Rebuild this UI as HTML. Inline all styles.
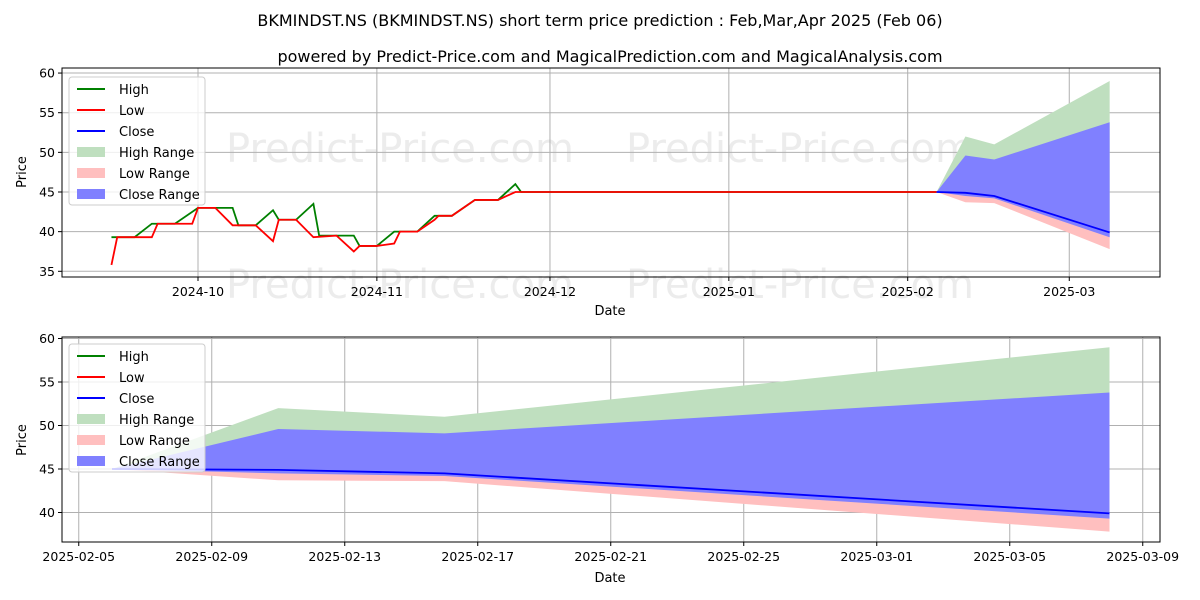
<!DOCTYPE html>
<html><head><meta charset="utf-8"><style>
body{margin:0;background:#fff;}
svg{display:block;font-family:"DejaVu Sans","Liberation Sans",sans-serif;}
</style></head><body>
<svg id="c" width="1200" height="600" xmlns="http://www.w3.org/2000/svg">
<text x="600" y="26" text-anchor="middle" font-size="16">BKMINDST.NS (BKMINDST.NS) short term price prediction : Feb,Mar,Apr 2025 (Feb 06)</text>
<text x="610" y="62" text-anchor="middle" font-size="16">powered by Predict-Price.com and MagicalPrediction.com and MagicalAnalysis.com</text>
</svg>
<script>
// ---- data ----
// historical (day offsets from 2024-10-01)
const highDays = [-15,-11,-8,-4,0,6,7,10,13,14,17,20,21,24,27,28,31,34,38,41,44,48,52,55,56,128];
const highVals = [39.3,39.3,41,41,43,43,40.8,40.8,42.7,41.5,41.5,43.5,39.5,39.5,39.5,38.2,38.2,40,40,42,42,44,44,46,45,45];
const lowDays = [-15,-14,-8,-7,-1,0,3,6,10,13,14,17,20,24,27,28,31,34,35,38,41,41.7,44,48,52,55,128];
const lowVals = [35.8,39.3,39.3,41,41,43,43,40.8,40.8,38.8,41.5,41.5,39.3,39.5,37.5,38.2,38.2,38.5,40,40,41.5,42,42,44,44,45,45];
// forecast (day offsets from 2025-02-06)
const fcDays = [0,5,10,30];
const fcHigh = [45,52,51,59];
const fcCloseUp = [45,49.6,49.1,53.8];
const fcClose = [45,44.9,44.5,39.9];
const fcCloseLo = [45,44.5,44.2,39.3];
const fcLowLo = [45,43.7,43.6,37.8];
const topXTicks = ["2024-10","2024-11","2024-12","2025-01","2025-02","2025-03"];
const topXTickDays = [0,31,61,92,123,151];
const botXTicks = ["2025-02-05","2025-02-09","2025-02-13","2025-02-17","2025-02-21","2025-02-25","2025-03-01","2025-03-05","2025-03-09"];
const botXTickDays = [-1,3,7,11,15,19,23,27,31];
const topYTicks = [35,40,45,50,55,60];
const botYTicks = [40,45,50,55,60];

const NS="http://www.w3.org/2000/svg";
const svg=document.getElementById('c');
function el(tag,attrs,parent){const e=document.createElementNS(NS,tag);for(const k in attrs)e.setAttribute(k,attrs[k]);(parent||svg).appendChild(e);return e;}

// watermarks (behind everything)
const wmg=el('g',{});


[[400,162],[800,162],[400,298],[800,298],[400,462],[800,462]].forEach(w=>{
  const t=el('text',{x:w[0],y:w[1],'text-anchor':'middle','font-size':40,fill:'#ececec'},wmg);t.textContent='Predict-Price.com';
  
  
});

function panel(cfg){
  const {L,R,T,B,xs,ys,pfx}=cfg;
  const g=el('g',{});
  
  
  cfg.xt.forEach((d,i)=>{const x=xs(d);el('line',{x1:x,x2:x,y1:T,y2:B,stroke:'#b0b0b0','stroke-width':1},g);
    el('line',{x1:x,x2:x,y1:B,y2:B+4,stroke:'#000'},g);
    const t=el('text',{x:x,y:B+19,'text-anchor':'middle','font-size':12.5},g);t.textContent=cfg.xl[i];
    
    });
  cfg.yt.forEach(v=>{const y=ys(v);el('line',{x1:L,x2:R,y1:y,y2:y,stroke:'#b0b0b0','stroke-width':1},g);
    el('line',{x1:L-4,x2:L,y1:y,y2:y,stroke:'#000'},g);
    const t=el('text',{x:L-7,y:y+4.5,'text-anchor':'end','font-size':12.5},g);t.textContent=v;
    
    });
  return g;
}
function poly(g,xs,ys,days,top,bot,fill,name){
  let pts=days.map((d,i)=>xs(d)+','+ys(top[i]));
  for(let i=days.length-1;i>=0;i--)pts.push(xs(days[i])+','+ys(bot[i]));
  const p=el('polygon',{points:pts.join(' '),fill:fill},g);
  
  
}
function line(g,xs,ys,days,vals,col,name){
  const p=el('polyline',{points:days.map((d,i)=>xs(d)+','+ys(vals[i])).join(' '),fill:'none',stroke:col,'stroke-width':1.8},g);
  
  
}
function frame(g,L,R,T,B){el('rect',{x:L,y:T,width:R-L,height:B-T,fill:'none',stroke:'#000','stroke-width':1},g);}
function legend(g,x,y,name){
  const lg=el('g',{},g);
  
  
  el('rect',{x:x,y:y,width:136,height:128,rx:3,fill:'#fff','fill-opacity':0.8,stroke:'#ccc'},lg);
  const items=[['High','#008000','l'],['Low','#ff0000','l'],['Close','#0000ff','l'],['High Range','#bfdfbf','f'],['Low Range','#ffbfbf','f'],['Close Range','#8080ff','f']];
  items.forEach((it,i)=>{const yy=y+12+i*21;
    if(it[2]=='l')el('line',{x1:x+8,x2:x+36,y1:yy,y2:yy,stroke:it[1],'stroke-width':2},lg);
    else el('rect',{x:x+8,y:yy-5,width:28,height:10,fill:it[1]},lg);
    const t=el('text',{x:x+50,y:yy+5,'font-size':13},lg);t.textContent=it[0];
    
    });
}
function yTitle(g,x,y){const t=el('text',{x:x,y:y,'text-anchor':'middle','font-size':13,transform:`rotate(-90 ${x} ${y})`},g);t.textContent='Price';
  }
function xTitle(g,x,y){const t=el('text',{x:x,y:y,'text-anchor':'middle','font-size':13},g);t.textContent='Date';
  }

// ---- top panel ----
{
  const L=62,R=1160,T=68,B=277;
  const xs=d=>198+d*5.77, ys=v=>192-(v-45)*7.93;
  const fxs=d=>xs(128+d);
  const g=panel({L,R,T,B,xs,ys,pfx:'top',xt:topXTickDays,xl:topXTicks,yt:topYTicks});
  poly(g,fxs,ys,fcDays,fcHigh,fcClose,'#bfdfbf','high-range-top');
  poly(g,fxs,ys,fcDays,fcClose,fcLowLo,'#ffbfbf','low-range-top');
  poly(g,fxs,ys,fcDays,fcCloseUp,fcCloseLo,'#8080ff','close-range-top');
  line(g,xs,ys,highDays,highVals,'#008000','high-line-top');
  line(g,xs,ys,lowDays,lowVals,'#ff0000','low-line-top');
  line(g,fxs,ys,fcDays,fcClose,'#0000ff','close-line-top');
  frame(g,L,R,T,B);legend(g,69,77,'legend-top');yTitle(g,26,172);xTitle(g,610,315);
}
// ---- bottom panel ----
{
  const L=62,R=1160,T=337,B=542;
  const xs=d=>112+d*33.25, ys=v=>469-(v-45)*8.7;
  const g=panel({L,R,T,B,xs,ys,pfx:'bottom',xt:botXTickDays,xl:botXTicks,yt:botYTicks});
  poly(g,xs,ys,fcDays,fcHigh,fcClose,'#bfdfbf','high-range-bottom');
  poly(g,xs,ys,fcDays,fcClose,fcLowLo,'#ffbfbf','low-range-bottom');
  poly(g,xs,ys,fcDays,fcCloseUp,fcCloseLo,'#8080ff','close-range-bottom');
  line(g,xs,ys,fcDays,fcClose,'#0000ff','close-line-bottom');
  frame(g,L,R,T,B);legend(g,69,344,'legend-bottom');yTitle(g,26,440);xTitle(g,610,582);
}
</script>
</body></html>
